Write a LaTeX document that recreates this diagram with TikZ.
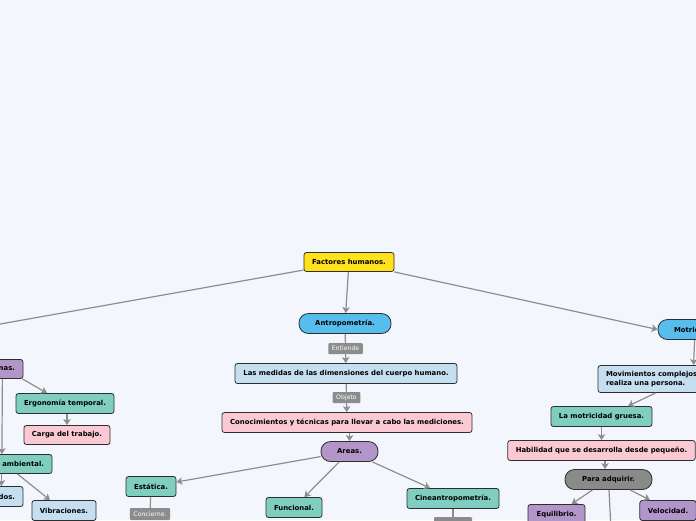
\documentclass[tikz,border=0pt]{standalone}
\usepackage{fontspec}
\setmainfont{DejaVu Sans}
\usetikzlibrary{arrows.meta}
\definecolor{bgc}{HTML}{F3F6FD}
\definecolor{cyel}{HTML}{FFE11C}
\definecolor{cblue}{HTML}{57BDED}
\definecolor{clblue}{HTML}{C5DFF1}
\definecolor{cpink}{HTML}{FAC9D3}
\definecolor{cpurp}{HTML}{B396C9}
\definecolor{cteal}{HTML}{7FCEBF}
\definecolor{cgray}{HTML}{8A8A8A}
\definecolor{cbord}{HTML}{2E2E2E}
\definecolor{cconn}{HTML}{8E8E8E}
\definecolor{clab}{HTML}{8C8C8C}
\tikzset{
  box/.style={draw=cbord, line width=0.8pt, rounded corners=2.5pt, minimum height=20pt,
    inner xsep=8pt, inner ysep=0pt, text=black, font=\fontsize{6.9}{9}\selectfont\bfseries},
  pill/.style={box, rounded corners=9.5pt},
  lab/.style={fill=clab, text=white, rounded corners=1pt, inner xsep=3.5pt, inner ysep=0pt,
    minimum height=11pt, font=\fontsize{6.2}{7}\selectfont},
  conn/.style={draw=cconn, line width=1.2pt},
  arr/.style={conn, -{Stealth[length=6pt,width=7.5pt,inset=1.5pt]}},
}
\begin{document}
\begin{tikzpicture}[x=1pt,y=-1pt]
\fill[bgc] (0,0) rectangle (696,520);
\useasboundingbox (0,0) rectangle (696,520);

% center column
\node[box, fill=cyel, minimum width=90pt, minimum height=19pt] (fh) at (349,262) {Factores humanos.};
\node[pill, fill=cblue, minimum width=92pt] (antro) at (345,323.5) {Antropometría.};
\node[lab] (entiende) at (345.5,348.5) {Entiende};
\node[box, fill=clblue, minimum width=222pt] (medidas) at (346,373.5) {Las medidas de las dimensiones del cuerpo humano.};
\node[lab] (objeto) at (346.5,397.5) {Objeto};
\node[box, fill=cpink, minimum width=250pt] (conoc) at (347,422.5) {Conocimientos y técnicas para llevar a cabo las mediciones.};
\node[pill, fill=cpurp, minimum width=57pt] (areas) at (349.5,451.5) {Areas.};
\node[box, fill=cteal, minimum width=50pt] (estatica) at (151,486.5) {Estática.};
\node[lab, minimum height=12pt] (concierne) at (150,514) {Concierne.};
\node[box, fill=cteal, minimum width=56pt] (funcional) at (294,507.5) {Funcional.};
\node[box, fill=cteal, minimum width=92pt] (cinea) at (453,498.5) {Cineantropometría.};
\node[lab, minimum width=38pt, minimum height=12pt] (cinelab) at (453,523) {};

% left side
\node[box, fill=cpurp, minimum height=19pt, text width=57pt, align=right] (nas) at (-13.5,369) {nas.};
\node[box, fill=cteal, minimum width=98pt] (ergtemp) at (65,403.5) {Ergonomía temporal.};
\node[box, fill=cpink, minimum width=86pt, minimum height=19pt] (carga) at (67,435) {Carga del trabajo.};
\node[box, fill=cteal, minimum height=19pt, text width=96pt, align=right] (ambiental) at (-4,464) {ambiental.};
\node[box, fill=clblue, text width=47pt, align=right] (dos) at (-8.5,496.5) {dos.};
\node[box, fill=clblue, minimum width=64pt] (vibr) at (64,510.5) {Vibraciones.};
\coordinate (offL) at (-20,327.6);

% right side
\node[pill, fill=cblue, inner xsep=16pt, text width=70pt, align=left] (motric) at (709,329.5) {Motric};
\node[box, fill=clblue, minimum height=27pt, text width=146pt, align=left] (movim) at (679,379) {Movimientos complejos\\realiza una persona.};
\node[box, fill=cteal, minimum width=101pt] (motgruesa) at (601.5,416.5) {La motricidad gruesa.};
\node[box, fill=cpink, minimum width=187pt] (habil) at (601.5,450.5) {Habilidad que se desarrolla desde pequeño.};
\node[pill, fill=cgray, minimum width=87pt] (paraadq) at (608.5,479.5) {Para adquirir.};
\node[box, fill=cpurp, minimum width=57pt] (equil) at (556.5,514.5) {Equilibrio.};
\node[box, fill=cpurp, minimum width=56pt] (veloc) at (668,510.5) {Velocidad.};
\coordinate (offB) at (611,530);

% connectors
\draw[conn] (fh) -- (offL);
\draw[arr] (fh) -- (antro);
\draw[arr] (fh) -- (motric.west);
\draw[conn] (antro) -- (entiende);
\draw[arr] (entiende) -- (medidas);
\draw[conn] (medidas) -- (objeto);
\draw[arr] (objeto) -- (conoc);
\draw[arr] (conoc.south -| areas) -- (areas);
\draw[arr] (areas) -- (estatica);
\draw[arr] (areas) -- (funcional);
\draw[arr] (areas) -- (cinea);
\draw[conn] (estatica) -- (concierne);
\draw[conn] (cinea) -- (cinelab);

\draw[arr] ([xshift=-1pt]nas.south east) -- ([xshift=-18pt]ergtemp.north);
\draw[arr] ([xshift=-21pt]nas.south east) -- ([xshift=-50.5pt]ambiental.north east);
\draw[arr] ([xshift=2pt]ergtemp.south) -- (carga.north);
\draw[arr] ([xshift=-51pt]ambiental.south east) -- ([xshift=-22pt]dos.north east);
\draw[arr] ([xshift=-35pt]ambiental.south east) -- ([xshift=-14pt]vibr.north);

\draw[arr] ([xshift=37pt]motric.south west) -- ([xshift=96pt]movim.north west);
\draw[arr] ([xshift=58pt]movim.south west) -- ([xshift=26.5pt]motgruesa.north);
\draw[arr] (motgruesa.south) -- (motgruesa.south |- habil.north);
\draw[arr] ([xshift=3.5pt]habil.south) -- ([xshift=-3.5pt]paraadq.north);
\draw[arr] ([xshift=-16pt]paraadq.south) -- ([xshift=15pt]equil.north);
\draw[conn] ([xshift=0.5pt]paraadq.south) -- (offB);
\draw[arr] ([xshift=21.5pt]paraadq.south) -- ([xshift=-18pt]veloc.north);
\end{tikzpicture}
\end{document}
